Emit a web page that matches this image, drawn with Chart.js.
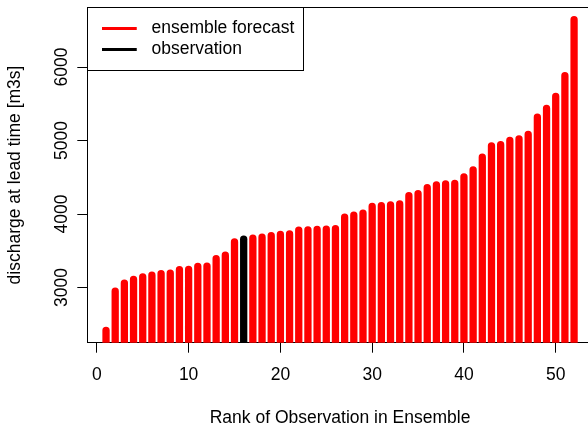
<!DOCTYPE html>
<html>
<head>
<meta charset="utf-8">
<script src="https://cdn.jsdelivr.net/npm/chart.js@4/dist/chart.umd.min.js"></script>
<style>
  html, body { margin: 0; padding: 0; background: #fff; overflow: hidden; }
  #wrap { width: 600px; height: 425px; }
</style>
</head>
<body>
<div id="wrap"><canvas id="c" width="600" height="425"></canvas></div>
<script>
// Rank of each ensemble member after sorting (observation inserted at its rank)
const ranks = [1, 2, 3, 4, 5, 6, 7, 8, 9, 10, 11, 12, 13, 14, 15, 16, 17, 18, 19, 20,
  21, 22, 23, 24, 25, 26, 27, 28, 29, 30, 31, 32, 33, 34, 35, 36, 37, 38, 39, 40,
  41, 42, 43, 44, 45, 46, 47, 48, 49, 50, 51, 52];

// Sorted discharge values [m3s] at the lead time
const discharge = [2418, 2949, 3061, 3110, 3146, 3168, 3189, 3194, 3243, 3246,
  3288, 3291, 3393, 3439, 3620, 3657, 3672, 3685, 3704, 3721,
  3729, 3782, 3785, 3790, 3795, 3800, 3956, 3983, 4013, 4103,
  4113, 4124, 4137, 4249, 4276, 4358, 4396, 4409, 4416, 4506,
  4601, 4773, 4928, 4944, 5001, 5022, 5083, 5317, 5437, 5600,
  5882, 6644];

// Rank taken by the observation
const obsRank = 16;

const xTicks = [0, 10, 20, 30, 40, 50];
const yTicks = [3000, 4000, 5000, 6000];
const seriesNames = ['ensemble forecast', 'observation'];
const seriesColors = ['#ff0000', '#000000'];

const FONT = 17.5;
Chart.defaults.font.family = "'Liberation Sans', Arial, Helvetica, sans-serif";
Chart.defaults.font.size = FONT;
Chart.defaults.color = '#000';

// Axis ranges padded by 4% of the data range on each side
function paddedRange(vals) {
  const lo = Math.min(...vals), hi = Math.max(...vals);
  const p = 0.04 * (hi - lo);
  return [lo - p, hi + p];
}
const [xMin, xMax] = paddedRange(ranks);
const [yMin, yMax] = paddedRange(discharge);

// Vertical stems from zero up to each value, separated by gaps
function stems(keep) {
  const pts = [];
  ranks.forEach((r, i) => {
    if (!keep(r)) return;
    pts.push({ x: r, y: 0 }, { x: r, y: discharge[i] }, { x: r, y: null });
  });
  return pts;
}

// Legend swatch: a short thick line followed by a gap before the text
function swatch(color) {
  const c = document.createElement('canvas');
  c.width = 41; c.height = 3;
  const g = c.getContext('2d');
  g.fillStyle = color;
  g.fillRect(0, 0, 35, 3);
  return c;
}

// Places the legend in the top-left corner of the plot and draws its frame
const legendFrame = {
  id: 'legendFrame',
  afterLayout(chart) {
    const lg = chart.legend, ca = chart.chartArea;
    const pad = lg.options.labels.padding;
    lg.left = ca.left + 14.4 - pad;
    lg.top = ca.top + 21 - pad - FONT / 2;
    lg.right = lg.left + lg.width;
    lg.bottom = lg.top + lg.height;
  },
  afterDraw(chart) {
    const lg = chart.legend, ca = chart.chartArea, ctx = chart.ctx;
    const pad = lg.options.labels.padding;
    const n = lg.legendItems.length;
    const textRight = lg.left + pad + lg.columnSizes[0].width;
    const firstCenter = lg.top + pad + FONT / 2;
    const lastCenter = firstCenter + (n - 1) * (FONT + pad);
    const x0 = Math.round(ca.left) + 0.5, y0 = Math.round(ca.top) + 0.5;
    const x1 = Math.round(textRight + 8.7) + 0.5;
    const y1 = Math.round(lastCenter + (firstCenter - ca.top)) + 0.5;
    ctx.save();
    ctx.strokeStyle = '#000';
    ctx.lineWidth = 1;
    ctx.strokeRect(x0, y0, x1 - x0, y1 - y0);
    ctx.restore();
  }
};

const axisGrid = { display: true, drawOnChartArea: false, drawTicks: true, tickLength: 10, color: '#000', lineWidth: 1 };
const axisBorder = { display: true, color: '#000', width: 1 };

new Chart(document.getElementById('c'), {
  type: 'line',
  data: {
    datasets: [
      { label: seriesNames[0], data: stems(r => r !== obsRank), borderColor: seriesColors[0], backgroundColor: seriesColors[0] },
      { label: seriesNames[1], data: stems(r => r === obsRank), borderColor: seriesColors[1], backgroundColor: seriesColors[1] }
    ]
  },
  options: {
    responsive: false,
    animation: false,
    devicePixelRatio: 1,
    events: [],
    layout: { padding: { top: 7.3, right: 7.2, bottom: 0, left: 0 } },
    elements: {
      line: { borderWidth: 7.3, borderCapStyle: 'round', borderJoinStyle: 'round', tension: 0, fill: false },
      point: { radius: 0, hitRadius: 0, hoverRadius: 0 }
    },
    datasets: { line: { spanGaps: false, clip: 0 } },
    scales: {
      x: {
        type: 'linear', position: 'bottom', min: xMin, max: xMax,
        afterBuildTicks: s => { s.ticks = xTicks.map(v => ({ value: v })); },
        afterFit: s => { s.height = 82.3; },
        grid: axisGrid, border: axisBorder,
        ticks: { color: '#000', padding: 12.3, maxRotation: 0, autoSkip: false, callback: v => String(v) },
        title: { display: true, text: 'Rank of Observation in Ensemble', color: '#000', padding: { top: 0, bottom: -3.7 } }
      },
      x2: {
        type: 'linear', position: 'top', min: xMin, max: xMax,
        grid: { display: false }, ticks: { display: false }, border: axisBorder,
        afterFit: s => { s.height = 0; }
      },
      y: {
        type: 'linear', position: 'left', min: yMin, max: yMax,
        afterBuildTicks: s => { s.ticks = yTicks.map(v => ({ value: v })); },
        afterFit: s => { s.width = 87.3; },
        grid: axisGrid, border: axisBorder,
        ticks: { color: '#000', minRotation: 90, maxRotation: 90, crossAlign: 'center', padding: -4.7, autoSkip: false, callback: v => String(v) },
        title: { display: true, text: 'discharge at lead time [m3s]', color: '#000', padding: { top: 4.5, bottom: 0 } }
      }
    },
    plugins: {
      tooltip: { enabled: false },
      legend: {
        display: true, position: 'chartArea', align: 'start',
        labels: {
          usePointStyle: true, pointStyleWidth: 41, padding: 3.5, color: '#000',
          font: { size: FONT },
          generateLabels: chart => chart.data.datasets.map((ds, i) => ({
            text: ds.label, pointStyle: swatch(ds.borderColor),
            fillStyle: ds.borderColor, strokeStyle: ds.borderColor, lineWidth: 0,
            hidden: false, datasetIndex: i, fontColor: '#000'
          }))
        }
      }
    }
  },
  plugins: [legendFrame]
});
</script>
</body>
</html>
